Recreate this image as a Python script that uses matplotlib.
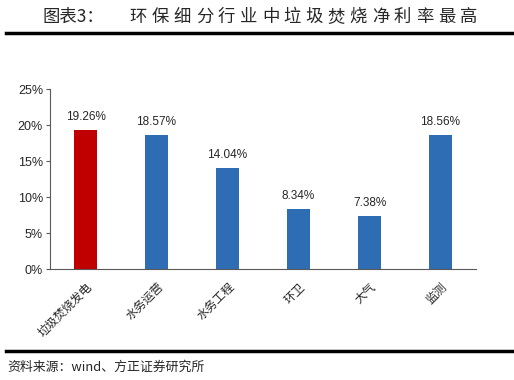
import matplotlib
matplotlib.use("Agg")
import matplotlib.pyplot as plt
from matplotlib.lines import Line2D

plt.rcParams['font.family'] = ['Noto Sans CJK SC', 'DejaVu Sans']

# data
categories = ['垃圾焚烧发电', '水务运营', '水务工程', '环卫', '大气', '监测']
values = [19.26, 18.57, 14.04, 8.34, 7.38, 18.56]
colors = ['#C00000', '#2E6DB4', '#2E6DB4', '#2E6DB4', '#2E6DB4', '#2E6DB4']
yticks = [0, 5, 10, 15, 20, 25]

fig = plt.figure(figsize=(5.14, 3.8), dpi=100)
ax = fig.add_axes([50/514, 1-269/380, 426/514, 180/380])

x = range(len(categories))
ax.bar(x, values, width=0.31, color=colors)
for i, v in zip(x, values):
    ax.annotate('%.2f%%' % v, xy=(i, v), xytext=(0, 5), textcoords='offset points',
                ha='center', va='bottom', fontsize=8.5, color='#262626',
                family=['Liberation Sans', 'DejaVu Sans'])

ax.set_xlim(-0.5, len(categories) - 0.5)
ax.set_ylim(0, 25)
ax.set_yticks(yticks)
ax.set_yticklabels(['%d%%' % t for t in yticks], fontsize=9, color='#262626',
                   family=['Liberation Sans', 'DejaVu Sans'])
ax.set_xticks(list(x))
ax.set_xticklabels(categories, rotation=45, ha='right', va='top',
                   rotation_mode='anchor', fontsize=8.5, color='#262626')
ax.tick_params(axis='x', length=0, pad=8)
ax.tick_params(axis='y', length=3, color='#595959', pad=2)
for s in ['top', 'right']:
    ax.spines[s].set_visible(False)
ax.spines['left'].set_color('#595959')
ax.spines['bottom'].set_color('#595959')

# title, drawn char by char to get the wide spacing
fig.text(42/514, 1-17/380, '图表3：', fontsize=12.5, va='center', ha='left', color='#262626')
title = '环保细分行业中垃圾焚烧净利率最高'
for k, ch in enumerate(title):
    fig.text((130 + k*22 + 8.5)/514, 1-17/380, ch, fontsize=12.5, va='center',
             ha='center', color='#262626')

fig.add_artist(Line2D([6/514, 1], [1-33/380, 1-33/380], color='black', lw=2.5))
fig.add_artist(Line2D([6/514, 1], [1-351/380, 1-351/380], color='black', lw=2.5))

fig.text(7/514, 1-367/380, '资料来源：wind、方正证券研究所', fontsize=9.3,
         va='center', ha='left', color='#262626', style='italic')

fig.savefig('out.png', dpi=100)
